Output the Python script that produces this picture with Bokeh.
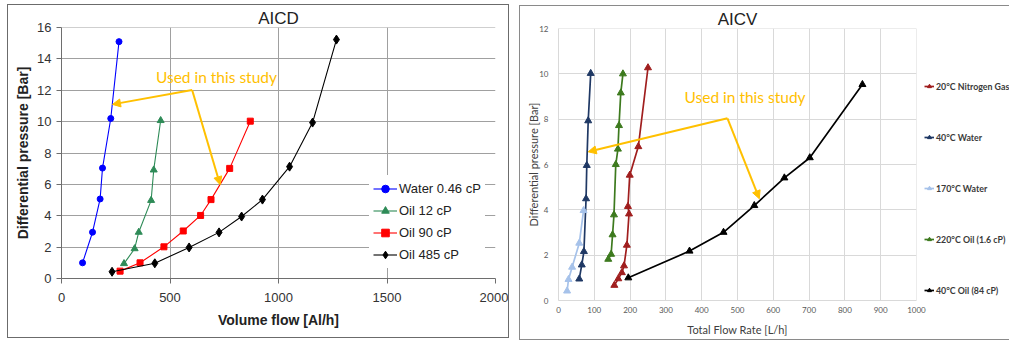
from bokeh.plotting import figure
from bokeh.layouts import row
from bokeh.models import Legend, LegendItem, Label, Arrow, NormalHead, Range1d, FixedTicker
from bokeh.embed import file_html
from bokeh.resources import INLINE

# ---------------- AICD data ----------------
water_046_flow = [97, 143, 178, 189, 227, 265]
water_046_dp = [1.0, 2.95, 5.07, 7.04, 10.2, 15.1]
oil_12_flow = [288, 337, 356, 413, 425, 457]
oil_12_dp = [0.95, 1.9, 2.95, 4.98, 6.92, 10.07]
oil_90_flow = [270, 362, 472, 561, 641, 689, 775, 870]
oil_90_dp = [0.47, 1.0, 2.02, 3.03, 4.02, 5.03, 7.02, 10.03]
oil_485_flow = [233, 430, 588, 726, 830, 926, 1051, 1157, 1267]
oil_485_dp = [0.43, 0.97, 1.98, 2.94, 3.95, 5.03, 7.13, 9.94, 15.23]
aicd_labels = ["Water 0.46 cP", "Oil 12 cP", "Oil 90 cP", "Oil 485 cP"]
aicd_x_ticks = [0, 500, 1000, 1500, 2000]
aicd_y_ticks = [0, 2, 4, 6, 8, 10, 12, 14, 16]

# ---------------- AICV data ----------------
nitrogen_flow = [156, 167, 177, 183, 191, 197, 194, 199, 223, 250]
nitrogen_dp = [0.67, 0.96, 1.23, 1.53, 2.44, 3.82, 4.15, 5.53, 6.79, 10.27]
water40_flow = [58, 65, 71, 77, 79, 83, 90]
water40_dp = [0.95, 1.57, 2.16, 4.49, 5.96, 7.93, 10.02]
water170_flow = [24, 28, 38, 58, 70]
water170_dp = [0.42, 0.93, 1.47, 2.53, 3.97]
oil16_flow = [139, 147, 151, 155, 160, 166, 169, 174, 180]
oil16_dp = [1.82, 2.04, 2.9, 3.78, 6.0, 6.68, 7.72, 9.16, 10.0]
oil84_flow = [195, 366, 461, 547, 631, 702, 849]
oil84_dp = [1.0, 2.18, 3.01, 4.19, 5.41, 6.3, 9.53]
aicv_labels = ["20°C Nitrogen Gas", "40°C Water", "170°C Water", "220°C Oil (1.6 cP)", "40°C Oil (84 cP)"]
aicv_x_ticks = list(range(0, 1001, 100))
aicv_y_ticks = [0, 2, 4, 6, 8, 10, 12]

note_text = "Used in this study"
ORANGE = "#FFC000"

# ================= Left: AICD =================
F1 = "Liberation Sans"
p1 = figure(frame_width=432, frame_height=249, x_range=Range1d(0, 2000), y_range=Range1d(0, 16.001),
            output_backend="svg", toolbar_location=None,
            min_border_left=53, min_border_right=15, min_border_top=21, min_border_bottom=62)
p1.styles = {"border": "1px solid #6b6b6b"}
p1.margin = (4, 0, 0, 7)
p1.outline_line_color = None
p1.title.text = "AICD"
p1.title.align = "center"
p1.title.text_font = F1
p1.title.text_font_size = "17px"
p1.title.text_font_style = "normal"
p1.title.text_color = "#222222"
p1.title.standoff = 0
p1.xaxis.ticker = FixedTicker(ticks=aicd_x_ticks)
p1.yaxis.ticker = FixedTicker(ticks=aicd_y_ticks)
for g in (p1.xgrid, p1.ygrid):
    g.grid_line_color = "#a0a0a0"
    g.grid_line_width = 1
for ax in (p1.xaxis, p1.yaxis):
    ax.axis_line_color = "#6e6e6e"
    ax.major_tick_line_color = "#6e6e6e"
    ax.major_tick_out = 5
    ax.major_tick_in = 0
    ax.minor_tick_out = 0
    ax.minor_tick_in = 0
    ax.major_label_text_font = F1
    ax.major_label_text_font_size = "13px"
    ax.major_label_text_color = "#333333"
    ax.axis_label_text_font = F1
    ax.axis_label_text_font_size = "14px"
    ax.axis_label_text_font_style = "bold"
    ax.axis_label_text_color = "#222222"
p1.xaxis.axis_label = "Volume flow [Al/h]"
p1.yaxis.axis_label = "Differential pressure [Bar]"
p1.xaxis.major_label_standoff = 9
p1.yaxis.major_label_standoff = 5
p1.xaxis.axis_label_standoff = 7
p1.yaxis.axis_label_standoff = 3

series1 = [
    (water_046_flow, water_046_dp, "#0000FF", "circle", 6),
    (oil_12_flow, oil_12_dp, "#2E8B57", "triangle", 7),
    (oil_90_flow, oil_90_dp, "#FF0000", "square", 6),
    (oil_485_flow, oil_485_dp, "#000000", "diamond", 9),
]
items1 = []
for (xs, ys, c, m, s), lab in zip(series1, aicd_labels):
    ln = p1.line(xs, ys, line_color=c, line_width=1.1)
    sc = p1.scatter(xs, ys, marker=m, size=s, fill_color=c, line_color=c)
    items1.append(LegendItem(label=lab, renderers=[ln, sc]))
leg1 = Legend(items=items1, location=(308, 10), glyph_width=24, glyph_height=19,
              label_height=19, spacing=3, padding=4, margin=0, label_standoff=2,
              label_text_font=F1, label_text_font_size="13px", label_text_color="#222222",
              background_fill_color="white", background_fill_alpha=1.0, border_line_alpha=0)
p1.add_layout(leg1)

p1.add_layout(Label(x=435, y=12.85, text=note_text, text_align="left", text_baseline="middle",
                    text_font="Lato", text_font_size="15.5px", text_color=ORANGE))
for (xe, ye) in [(235, 11.1), (731, 5.98)]:
    p1.add_layout(Arrow(end=NormalHead(size=8, fill_color=ORANGE, line_color=ORANGE),
                        x_start=602, y_start=12.02, x_end=xe, y_end=ye,
                        line_color=ORANGE, line_width=2))

# ================= Right: AICV =================
F2 = "Lato"
p2 = figure(frame_width=357, frame_height=270, x_range=Range1d(0, 1000.1), y_range=Range1d(0, 12.001),
            output_backend="svg", toolbar_location=None,
            min_border_left=38, min_border_right=90, min_border_top=22, min_border_bottom=41)
p2.styles = {"border": "1px solid #8a8a8a", "border-right": "none"}
p2.margin = (5, 0, 0, 10)
p2.outline_line_color = None
p2.title.text = "AICV"
p2.title.align = "center"
p2.title.text_font = F1
p2.title.text_font_size = "17px"
p2.title.text_font_style = "normal"
p2.title.text_color = "#222222"
p2.title.standoff = 0
p2.xaxis.ticker = FixedTicker(ticks=aicv_x_ticks)
p2.yaxis.ticker = FixedTicker(ticks=aicv_y_ticks)
for g in (p2.xgrid, p2.ygrid):
    g.grid_line_color = "#d9d9d9"
    g.grid_line_width = 1
for ax in (p2.xaxis, p2.yaxis):
    ax.axis_line_color = "#d9d9d9"
    ax.major_tick_out = 0
    ax.major_tick_in = 0
    ax.minor_tick_out = 0
    ax.minor_tick_in = 0
    ax.major_label_text_font = F2
    ax.major_label_text_font_size = "8px"
    ax.major_label_text_color = "#595959"
    ax.axis_label_text_font = F2
    ax.axis_label_text_font_size = "11px"
    ax.axis_label_text_font_style = "normal"
    ax.axis_label_text_color = "#404040"
p2.xaxis.axis_label = "Total Flow Rate [L/h]"
p2.yaxis.axis_label = "Differential pressure [Bar]"
p2.xaxis.major_label_standoff = 6
p2.yaxis.major_label_standoff = 10
p2.xaxis.axis_label_standoff = 7
p2.yaxis.axis_label_standoff = -4

series2 = [
    (nitrogen_flow, nitrogen_dp, "#A01E1E"),
    (water40_flow, water40_dp, "#1F3864"),
    (water170_flow, water170_dp, "#A6C2EA"),
    (oil16_flow, oil16_dp, "#3D7A1E"),
    (oil84_flow, oil84_dp, "#000000"),
]
items2 = []
for (xs, ys, c), lab in zip(series2, aicv_labels):
    ln = p2.line(xs, ys, line_color=c, line_width=1.7)
    sc = p2.scatter(xs, ys, marker="triangle", size=7, fill_color=c, line_color=c)
    items2.append(LegendItem(label=lab, renderers=[ln, sc]))
leg2 = Legend(items=items2, location=(8, 0), glyph_width=10, glyph_height=20,
              label_height=20, spacing=31, padding=0, margin=0, label_standoff=2,
              label_text_font=F2, label_text_font_size="8.8px", label_text_font_style="bold",
              label_text_color="#3a3a3a",
              background_fill_alpha=0, border_line_alpha=0)
p2.add_layout(leg2, "right")

p2.add_layout(Label(x=352, y=9.0, text=note_text, text_align="left", text_baseline="middle",
                    text_font="Lato", text_font_size="15.5px", text_color=ORANGE))
for (xe, ye) in [(83, 6.56), (561, 4.49)]:
    p2.add_layout(Arrow(end=NormalHead(size=8, fill_color=ORANGE, line_color=ORANGE),
                        x_start=472, y_start=8.04, x_end=xe, y_end=ye,
                        line_color=ORANGE, line_width=2))

layout = row(p1, p2)
open("out.html", "w").write(file_html(layout, INLINE))
